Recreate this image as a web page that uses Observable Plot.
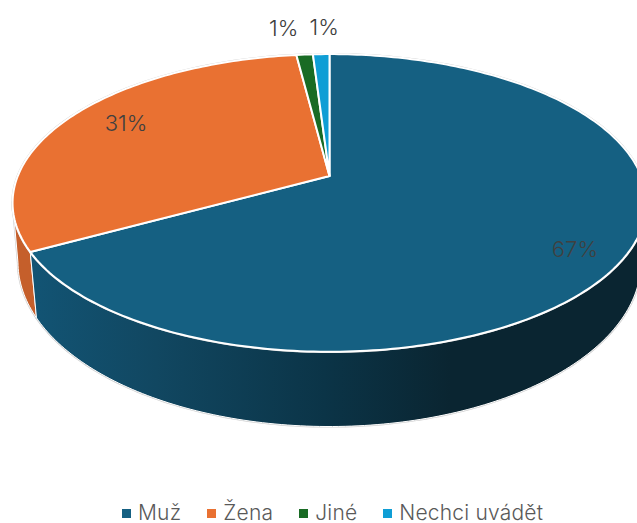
<!DOCTYPE html>
<html><head><meta charset="utf-8">
<script src="https://cdn.jsdelivr.net/npm/d3@7"></script>
<script src="https://cdn.jsdelivr.net/npm/@observablehq/plot@0.6"></script>
<style>
html,body{margin:0;padding:0;background:#fff;overflow:hidden}
#legend{display:flex;justify-content:flex-start;height:28px;align-items:center;padding-left:122px;padding-top:12px}
#legend .sw{display:inline-flex;align-items:center;margin-right:26px;color:#595959;font:21px Inter,sans-serif;font-weight:300;letter-spacing:.2px;white-space:nowrap}
#legend .sw i{display:inline-block;width:9px;height:9px;margin-right:7px;margin-top:3px}
</style></head><body>
<div id="chart"></div><div id="legend"></div>
<script>
const categories = ["Muž","Žena","Jiné","Nechci uvádět"];
const shares = [67,31,1,1];
const labels = ["67%","31%","1%","1%"];
const colors = ["#156082","#E97132","#196B24","#0F9ED5"];

// perspective tilt of the pie disc
const W=637,H=486,cx=329;
const top3d={A:311.7,y0:175.5,a:112.2,k:0.181};
const bot3d={A:307,y0:233.6,a:120,k:0.17};
const rad=d=>d*Math.PI/180;
const proj=(p,deg,r=1)=>{const s=Math.sin(rad(deg))*r,c=Math.cos(rad(deg))*r,w=1+p.k*c;
  return {x:cx+p.A*s/w,y:(p.y0-p.a*c)/w};};
const arc=(p,a,b)=>{const n=Math.max(2,Math.ceil(Math.abs(b-a)));return d3.range(n+1).map(i=>proj(p,a+(b-a)*i/n));};

let acc=0;
const slices=categories.map((c,i)=>{const a=acc*3.6;acc+=shares[i];return {cat:c,a,b:acc*3.6,label:labels[i]};});
const rows=slices.flatMap(s=>{const o=proj(top3d,0,0);
  return [o,...arc(top3d,s.a,s.b),o].map(q=>({...q,cat:s.cat}));});
const wall=(a,b)=>{const t=arc(top3d,a,b),u=arc(bot3d,b,a);return [...t,...u,t[0]];};
const blueWall=wall(100,slices[0].b), orangeWall=wall(slices[0].b,260);
const rim=arc(top3d,0,360);

const gradient=()=>{const d=d3.create("svg:defs");
  const g=d.append("linearGradient").attr("id","wallBlue").attr("gradientUnits","userSpaceOnUse")
    .attr("x1",30).attr("x2",450).attr("y1",0).attr("y2",0);
  [[0,"#125474"],[.3,"#114761"],[.7,"#0b3447"],[1,"#0a2531"]].forEach(([o,c])=>g.append("stop").attr("offset",o).attr("stop-color",c));
  return d.node();};

const mid=s=>(s.a+s.b)/2;
const lab=(s,r,dx,dy)=>Plot.text([{...proj(top3d,mid(s),r),t:s.label}],{x:"x",y:"y",text:"t",dx,dy,fill:"#404040",fontSize:22,fontWeight:300,fontFamily:"Inter",textAnchor:"middle",lineAnchor:"middle"});

const plot=Plot.plot({width:W,height:H,margin:0,
  x:{domain:[0,W],range:[0,W],axis:null},
  y:{domain:[0,H],range:[0,H],axis:null},
  color:{domain:categories,range:colors},
  marks:[
    gradient,
    Plot.line(blueWall,{x:"x",y:"y",stroke:"#cfcfcf",strokeWidth:2.2}),
    Plot.line(orangeWall,{x:"x",y:"y",stroke:"#cfcfcf",strokeWidth:2.2}),
    Plot.line(orangeWall,{x:"x",y:"y",fill:"#C55F2B",stroke:"white",strokeWidth:1}),
    Plot.line(blueWall,{x:"x",y:"y",fill:"url(#wallBlue)",stroke:"white",strokeWidth:1}),
    Plot.line(rim,{x:"x",y:"y",stroke:"#cfcfcf",strokeWidth:2.4}),
    Plot.line(rows,{x:"x",y:"y",z:"cat",fill:"cat",stroke:"white",strokeWidth:2}),
    lab(slices[0],.85,-2,6),
    lab(slices[1],.8,5,-3),
    lab(slices[2],1,-21,-26),
    lab(slices[3],1,3,-26)
  ]});
document.getElementById("chart").append(plot);
const leg=d3.select("#legend");
categories.forEach((c,i)=>{const s=leg.append("span").attr("class","sw");
  s.append("i").style("background",colors[i]);s.append("span").text(c);});
</script></body></html>
